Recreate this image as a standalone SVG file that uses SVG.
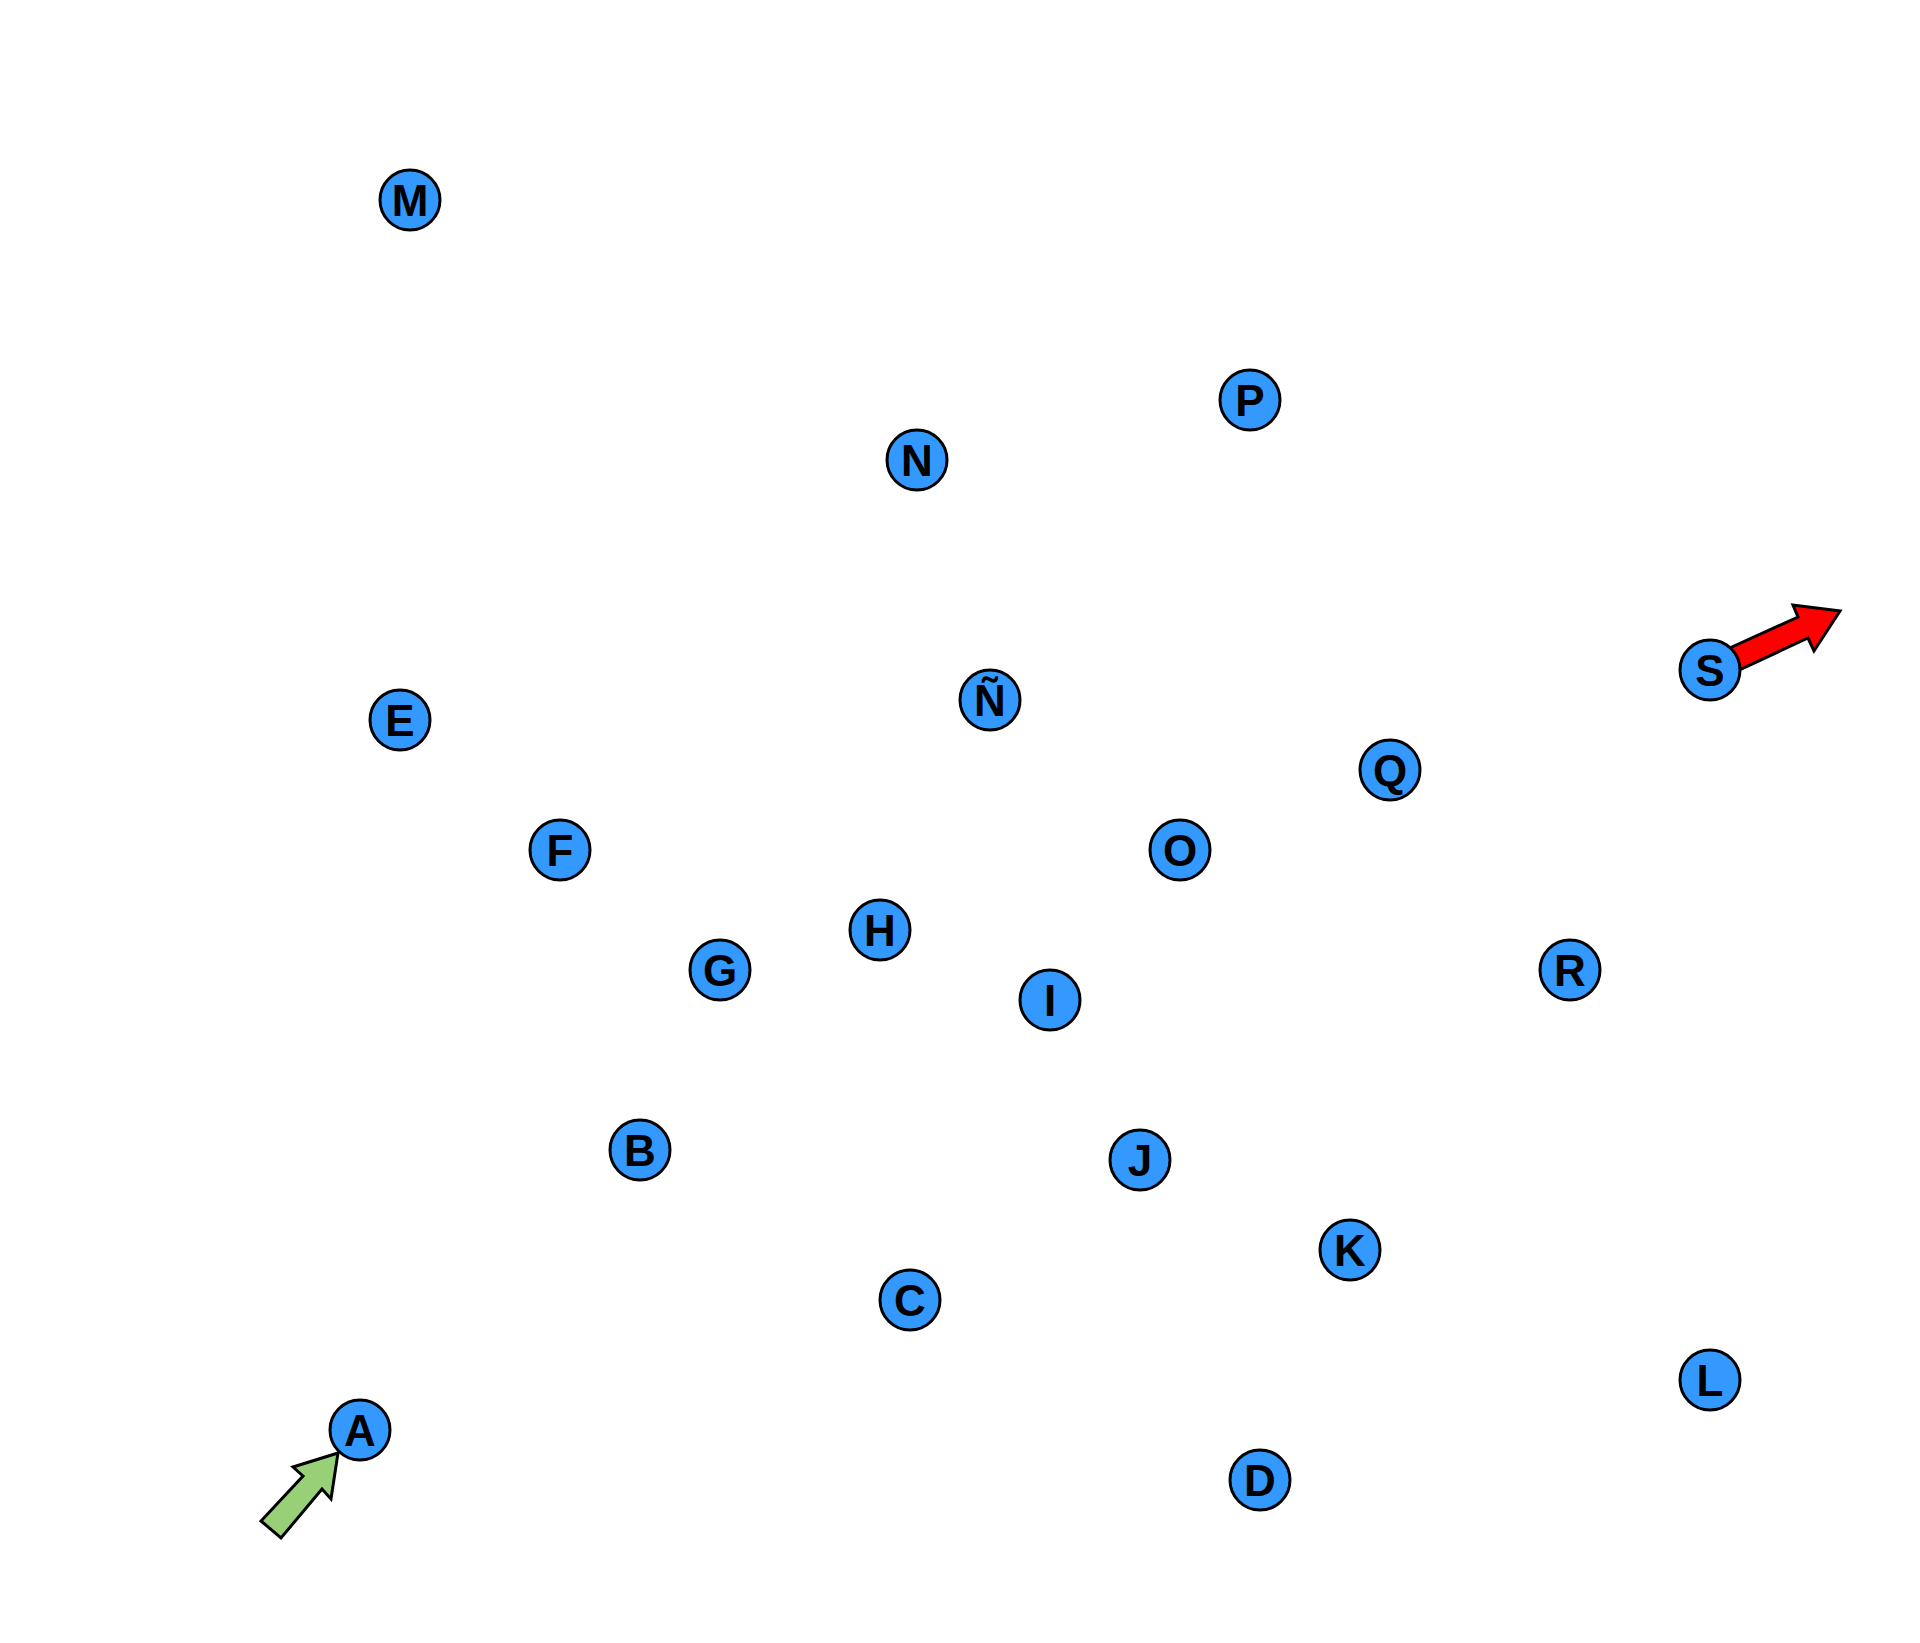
<svg xmlns="http://www.w3.org/2000/svg" width="1920" height="1643" viewBox="0 0 1920 1643">
<style>
.n circle{fill:#3399FF;stroke:#000;stroke-width:3}
.n text{font-family:"Liberation Sans",Arial,sans-serif;font-weight:bold;font-size:44px;fill:#000;text-anchor:middle}
.arr{stroke:#000;stroke-width:3;stroke-linejoin:miter}
</style>
<rect width="1920" height="1643" fill="#fff"/>
<g id="connectors">
<polygon class="arr" fill="#97D077" points="338,1453 293,1467 303,1476 261,1521 281,1538 322,1489 331,1499"/>
<polygon class="arr" fill="#FF0000" points="1712,656 1798,617 1793,605 1840,611 1814,651 1808,638 1722,678"/>
</g>
<g id="M" class="n"><circle cx="410" cy="200" r="30"/><text x="410" y="216">M</text></g>
<g id="P" class="n"><circle cx="1250" cy="400" r="30"/><text x="1250" y="416">P</text></g>
<g id="N" class="n"><circle cx="917" cy="460" r="30"/><text x="917" y="476">N</text></g>
<g id="S" class="n"><circle cx="1710" cy="670" r="30"/><text x="1710" y="686">S</text></g>
<g id="Ñ" class="n"><circle cx="990" cy="700" r="30"/><text x="990" y="716">Ñ</text></g>
<g id="E" class="n"><circle cx="400" cy="720" r="30"/><text x="400" y="736">E</text></g>
<g id="Q" class="n"><circle cx="1390" cy="770" r="30"/><text x="1390" y="786">Q</text></g>
<g id="F" class="n"><circle cx="560" cy="850" r="30"/><text x="560" y="866">F</text></g>
<g id="O" class="n"><circle cx="1180" cy="850" r="30"/><text x="1180" y="866">O</text></g>
<g id="H" class="n"><circle cx="880" cy="930" r="30"/><text x="880" y="946">H</text></g>
<g id="G" class="n"><circle cx="720" cy="970" r="30"/><text x="720" y="986">G</text></g>
<g id="R" class="n"><circle cx="1570" cy="970" r="30"/><text x="1570" y="986">R</text></g>
<g id="I" class="n"><circle cx="1050" cy="1000" r="30"/><text x="1050" y="1016">I</text></g>
<g id="B" class="n"><circle cx="640" cy="1150" r="30"/><text x="640" y="1166">B</text></g>
<g id="J" class="n"><circle cx="1140" cy="1160" r="30"/><text x="1140" y="1176">J</text></g>
<g id="K" class="n"><circle cx="1350" cy="1250" r="30"/><text x="1350" y="1266">K</text></g>
<g id="C" class="n"><circle cx="910" cy="1300" r="30"/><text x="910" y="1316">C</text></g>
<g id="L" class="n"><circle cx="1710" cy="1380" r="30"/><text x="1710" y="1396">L</text></g>
<g id="A" class="n"><circle cx="360" cy="1430" r="30"/><text x="360" y="1446">A</text></g>
<g id="D" class="n"><circle cx="1260" cy="1480" r="30"/><text x="1260" y="1496">D</text></g>
</svg>
